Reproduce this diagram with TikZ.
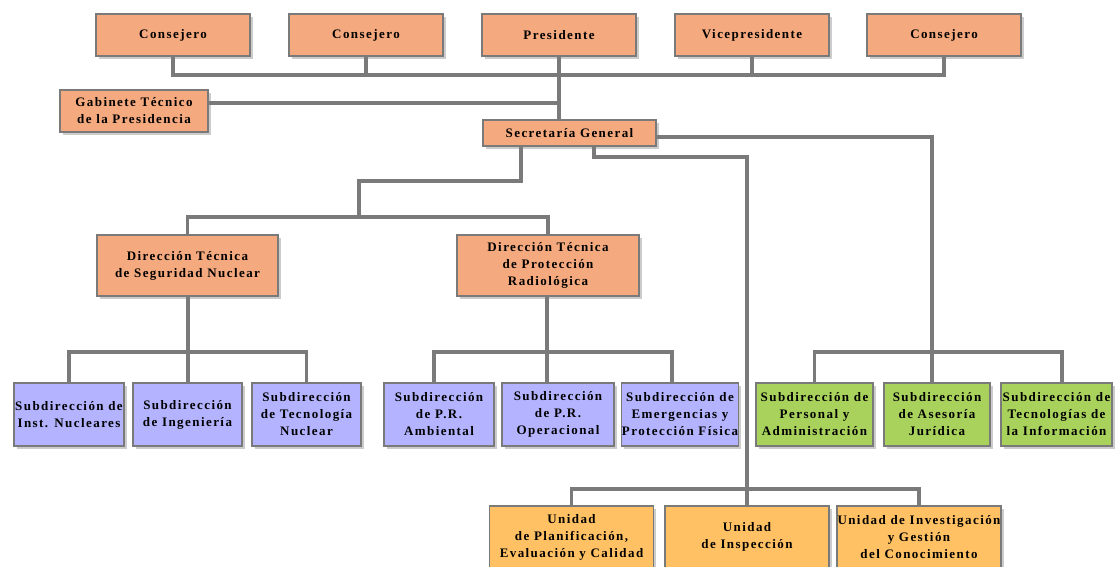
\documentclass[tikz,border=0pt]{standalone}
\usepackage{fontspec}
\newfontfamily\orgfont[LetterSpace=11]{Liberation Serif}
\usepackage{tikz}
\usetikzlibrary{shadows}
\definecolor{salmon}{HTML}{F4A97E}
\definecolor{lavender}{HTML}{B3B3FF}
\definecolor{leaf}{HTML}{A8D25C}
\definecolor{gold}{HTML}{FFC163}
\definecolor{linegray}{HTML}{7A7A7A}
\tikzset{
    orgbox/.style={draw=linegray, line width=1.4pt, inner sep=0.5pt, align=center,
        font=\orgfont\bfseries\fontsize{13}{17}\selectfont,
        drop shadow={shadow xshift=2.5pt, shadow yshift=-2.5pt, fill=black!40}},
    head/.style={orgbox, fill=salmon, minimum width=154pt, minimum height=42pt},
    subnuc/.style={orgbox, fill=lavender, minimum height=63pt},
    subadm/.style={orgbox, fill=leaf, minimum height=63pt},
    unit/.style={orgbox, fill=gold, minimum width=164pt, minimum height=62pt},
    link/.style={draw=linegray, line width=3.4pt}
}

\begin{document}
\begin{tikzpicture}[x=1pt, y=-1pt]
            \useasboundingbox (0,0) rectangle (1115,566);

            \node[head] at (173, 35)   (cons_1) {Consejero};
            \node[head] at (366, 35)   (cons_2) {Consejero};
            \node[head] at (559, 35)   (pres) {Presidente};
            \node[head] at (752, 35)   (vice) {Vicepresidente};
            \node[head] at (944, 35)   (cons_3) {Consejero};

            \node[orgbox, fill=salmon, minimum width=148pt, minimum height=42pt] at (134, 111) (gab_t) {Gabinete Técnico\\de la Presidencia};
            \node[orgbox, fill=salmon, minimum width=173pt, minimum height=26pt] at (569.5, 133) (sec_g) {Secretaría General};

            \node[orgbox, fill=salmon, minimum width=181pt, minimum height=61pt] at (187.5, 265.5) (dir_sn) {Dirección Técnica\\de Seguridad Nuclear};
            \node[orgbox, fill=salmon, minimum width=182pt, minimum height=61pt] at (548, 265.5) (dir_pr) {Dirección Técnica\\de Protección\\Radiológica};

            \node[subnuc, minimum width=110pt] at (69, 414.5)    (sub_in) {Subdirección de\\Inst. Nucleares};
            \node[subnuc, minimum width=109pt] at (187.5, 414.5) (sub_ig) {Subdirección\\de Ingeniería};
            \node[subnuc, minimum width=109pt] at (306.5, 414.5) (sub_tn) {Subdirección\\de Tecnología\\Nuclear};

            \node[subnuc, minimum width=110pt] at (439, 414.5) (sub_am) {Subdirección\\de P.R.\\Ambiental};
            \node[subnuc, minimum width=112pt] at (558, 414.5) (sub_op) {Subdirección\\de P.R.\\Operacional};
            \node[subnuc, minimum width=114pt] at (680, 414.5) (sub_ep) {Subdirección de\\Emergencias y\\Protección Física};

            \node[subadm, minimum width=117pt] at (814.5, 414.5)  (sub_pa) {Subdirección de\\Personal y\\Administración};
            \node[subadm, minimum width=106pt] at (937, 414.5)    (sub_aj) {Subdirección\\de Asesoría\\Jurídica};
            \node[subadm, minimum width=111pt] at (1056.5, 414.5) (sub_ti) {Subdirección de\\Tecnologías de\\la Información};

            \node[unit] at (571.5, 537) (un_pc) {Unidad\\de Planificación,\\Evaluación y Calidad};
            \node[unit] at (747, 537)   (un_in) {Unidad\\de Inspección};
            \node[unit] at (919, 537)   (un_ig) {Unidad de Investigación\\y Gestión\\del Conocimiento};

            % consejo
            \coordinate (top_bus) at (559, 75);
            \coordinate (gab_j) at (559, 103);
            \draw[link] (cons_1) |- (top_bus) -| (cons_3);
            \draw[link] (cons_2) -- (cons_2 |- top_bus);
            \draw[link] (vice) -- (vice |- top_bus);
            \draw[link] (pres) -- (pres |- sec_g.north);
            \draw[link] (gab_t.east |- gab_j) -- (gab_j);

            % direcciones
            \coordinate (dir_a) at (521, 181);
            \coordinate (dir_b) at (359, 217);
            \draw[link] (sec_g.south -| dir_a) -- (dir_a) -| (dir_b);
            \draw[link] (dir_sn) |- (dir_b) -| (dir_pr);

            \coordinate (sn_bus) at (188, 352);
            \draw[link] (dir_sn.south -| sn_bus) -- (sn_bus);
            \draw[link] (sub_in) |- (sn_bus) -| (sub_tn);
            \draw[link] (sn_bus) -- (sn_bus |- sub_ig.north);

            \coordinate (pr_bus) at (547, 352);
            \draw[link] (dir_pr.south -| pr_bus) -- (pr_bus);
            \draw[link] ([xshift=-5pt]sub_am.north) |- (pr_bus) -| ([xshift=-8pt]sub_ep.north);
            \draw[link] (pr_bus) -- (pr_bus |- sub_op.north);

            % subdirecciones generales
            \coordinate (adm_bus) at (932, 352);
            \draw[link] ([yshift=-4pt]sec_g.east) -| (adm_bus);
            \draw[link] (sub_pa) |- (adm_bus) -| ([xshift=5.5pt]sub_ti.north);
            \draw[link] (adm_bus) -- (adm_bus |- sub_aj.north);

            % unidades
            \coordinate (un_a) at (594, 157);
            \coordinate (un_bus) at (747, 489);
            \draw[link] (sec_g.south -| un_a) -- (un_a) -| (un_bus);
            \draw[link] (un_pc) |- (un_bus) -| (un_ig);
            \draw[link] (un_bus) -- (un_in);
\end{tikzpicture}
\end{document}
